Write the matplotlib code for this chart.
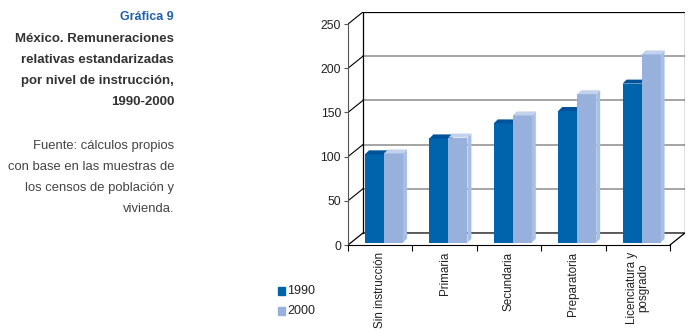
import numpy as np
import matplotlib
matplotlib.use('Agg')
import matplotlib.pyplot as plt

# datos
categorias = ['Sin instrucción', 'Primaria', 'Secundaria', 'Preparatoria', 'Licenciatura y\nposgrado']
v1990 = [100, 118, 135, 149, 180]
v2000 = [101, 119, 144, 168, 213]
yticks = [0, 50, 100, 150, 200, 250]

plt.rcParams['font.family'] = ['Liberation Sans', 'DejaVu Sans']

W, H = 696, 331
DX, DY = 0.233, 13.6        # profundidad de la caja (unidades de datos)
BDX, BDY = 0.062, 4.5       # profundidad de cada barra
BASE = 2.6
C_DARK = '#0064ad'
C_LIGHT = '#97b1dc'


def px(x, y):
    return x / W, 1 - y / H


def bar3d(ax, x0, w, h, front, side, top):
    ax.bar(x0, h, width=w, bottom=BASE, align='edge', color=front, linewidth=0, zorder=3)
    ax.fill([x0 + w, x0 + w + BDX, x0 + w + BDX, x0 + w],
            [BASE, BASE + BDY, BASE + h + BDY, BASE + h], color=side, lw=0, zorder=3)
    ax.fill([x0, x0 + BDX, x0 + w + BDX, x0 + w],
            [BASE + h, BASE + h + BDY, BASE + h + BDY, BASE + h], color=top, lw=0, zorder=3)


fig = plt.figure(figsize=(W / 100, H / 100), dpi=100)
fig.patch.set_facecolor('white')

# texto de la izquierda
fig.text(*px(174, 17), 'Gráfica 9', ha='right', va='center', fontsize=9,
         fontweight='bold', color='#2060a8')
titulo = ['México. Remuneraciones', 'relativas estandarizadas',
          'por nivel de instrucción,', '1990-2000']
for i, t in enumerate(titulo):
    fig.text(*px(174, 39 + i * 21), t, ha='right', va='center', fontsize=9.5,
             fontweight='bold', color='#333333')
fuente = ['Fuente: cálculos propios', 'con base en las muestras de',
          'los censos de población y', 'vivienda.']
for i, t in enumerate(fuente):
    fig.text(*px(174, 146 + i * 21), t, ha='right', va='center', fontsize=9.4,
             color='#444444')

# grafica
l, b = px(348, 245)
ax = fig.add_axes([l, b, 337 / W, 233 / H])
n = len(categorias)
ax.set_xlim(0, n + DX)
ax.set_ylim(0, 250 + DY)
for s in ['top', 'right']:
    ax.spines[s].set_visible(False)
ax.spines['left'].set_bounds(0, 250)
ax.spines['left'].set_color('#555555')
ax.spines['bottom'].set_bounds(0, n)
ax.spines['bottom'].set_color('black')
ax.set_yticks(yticks)
ax.set_yticklabels([str(v) for v in yticks])
ax.tick_params(axis='y', length=3, pad=2, labelsize=8.8, color='#555555',
               labelcolor='#222222')
ax.set_xticks(np.arange(n + 1))
ax.set_xticklabels([])
ax.tick_params(axis='x', which='major', length=4, color='black')
ax.set_xticks(np.arange(n) + 0.5, minor=True)
ax.set_xticklabels(categorias, minor=True, rotation=90, va='top', ha='center',
                   fontsize=8.4, linespacing=0.95, color='#222222')
ax.tick_params(axis='x', which='minor', length=0, pad=5)

# pared del fondo y cuadricula
for v in yticks[1:-1]:
    ax.plot([DX, n + DX], [v + DY, v + DY], color='#8c8c8c', lw=1.1, zorder=1)
for v in yticks[1:]:
    ax.plot([0, DX], [v, v + DY], color='black', lw=0.8, zorder=1)
ax.plot([DX, n + DX, n + DX], [250 + DY, 250 + DY, DY], color='black', lw=0.9, zorder=1)
ax.plot([DX, DX], [DY, 250 + DY], color='black', lw=0.9, zorder=1)
# piso
ax.plot([0, DX, n + DX, n], [0, DY, DY, 0], color='black', lw=0.9, zorder=1)

# barras
w = 0.295
for i in range(n):
    x0 = i + 0.264
    bar3d(ax, x0, w, v1990[i], C_DARK, '#0058a0', '#00529a')
    bar3d(ax, x0 + w, w, v2000[i], C_LIGHT, '#a8bfe4', '#c2d2ec')

# leyenda
for t, c, y in [('1990', C_DARK, 291), ('2000', C_LIGHT, 311)]:
    fig.patches.append(plt.Rectangle(px(278, y + 4), 7 / W, 8 / H, color=c,
                                     transform=fig.transFigure, figure=fig))
    fig.text(*px(287, y), t, ha='left', va='center', fontsize=9, color='#222222')

fig.savefig('out.png', dpi=100)
